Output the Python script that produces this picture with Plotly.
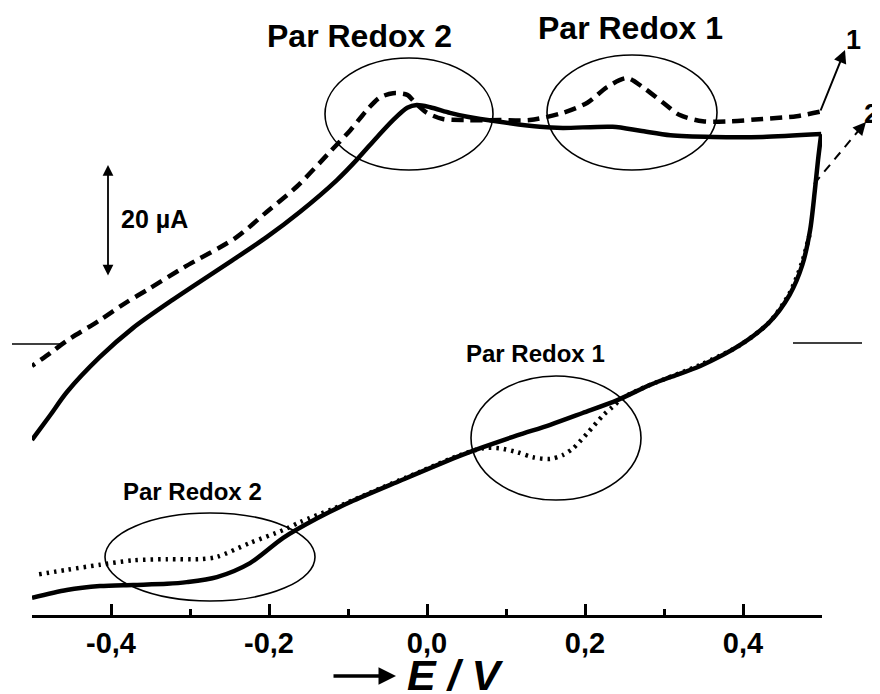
import plotly.graph_objects as go

# ---------------- data (E in V, I in µA) ----------------
# Curve 1 (solid): forward (lower) branch
e1_fwd = [-0.5, -0.456, -0.414, -0.372, -0.329, -0.304, -0.266, -0.224, -0.182, -0.139,
          -0.097, -0.034, 0.039, 0.071, 0.114, 0.156, 0.197, 0.241, 0.282,
          0.308, 0.346, 0.396, 0.434, 0.459, 0.475, 0.485, 0.491, 0.495, 0.499]
i1_fwd = [-45.5, -44.1, -43.4, -43.2, -43.0, -42.7, -41.8, -39.3, -34.8, -31.3,
          -28.4, -24.6, -20.3, -18.6, -16.5, -14.6, -12.5, -10.2, -7.5,
          -6.1, -4.1, -0.4, 3.8, 8.6, 13.9, 20.2, 27.3, 32.7, 37.3]
# Curve 1 (solid): reverse (upper) branch
e1_rev = [0.499, 0.425, 0.362, 0.308, 0.270, 0.235, 0.172, 0.143, 0.092, 0.051,
          0.029, 0.004, -0.013, -0.025, -0.043, -0.063, -0.089, -0.114, -0.161, -0.203,
          -0.246, -0.322, -0.372, -0.414, -0.456, -0.477, -0.5]
i1_rev = [37.3, 36.8, 36.8, 37.1, 37.9, 38.6, 38.4, 38.6, 39.5, 40.4,
          41.1, 42.1, 42.5, 42.0, 39.8, 36.8, 32.7, 29.1, 23.4, 18.9,
          14.8, 7.7, 2.7, -2.5, -8.8, -12.9, -17.3]
# Curve 2: forward branch (dotted)
e2_fwd = [-0.491, -0.456, -0.414, -0.372, -0.329, -0.287, -0.266, -0.224, -0.182, -0.161,
          -0.119, -0.060, -0.009, 0.042, 0.071, 0.092, 0.114, 0.134, 0.156, 0.172,
          0.185, 0.203, 0.223, 0.235, 0.248, 0.282, 0.346, 0.396, 0.434, 0.459,
          0.475, 0.485]
i2_fwd = [-41.3, -40.5, -39.6, -38.8, -38.6, -38.6, -38.2, -35.7, -33.4, -32.0,
          -29.6, -26.0, -23.0, -20.0, -18.8, -18.8, -19.5, -20.4, -20.7, -20.0,
          -18.8, -16.1, -12.9, -11.4, -9.8, -7.5, -3.9, -0.4, 3.8, 8.9,
          14.5, 19.8]
# Curve 2: reverse branch (dashed)
e2_rev = [0.497, 0.468, 0.425, 0.384, 0.349, 0.320, 0.299, 0.273, 0.253, 0.228,
          0.203, 0.172, 0.130, 0.092, 0.051, 0.020, 0.000, -0.015, -0.025, -0.043,
          -0.060, -0.076, -0.097, -0.123, -0.165, -0.203, -0.241, -0.309, -0.354, -0.380,
          -0.414, -0.456, -0.477, -0.5]
i2_rev = [41.3, 40.5, 40.0, 39.6, 39.6, 40.7, 42.9, 45.7, 47.3, 45.7,
          42.9, 41.1, 39.8, 39.8, 39.8, 40.0, 41.1, 42.9, 44.3, 44.6,
          43.8, 41.6, 38.0, 34.1, 27.9, 23.4, 18.9, 13.4, 9.5, 7.3,
          4.1, 0.4, -1.8, -4.1]

major_ticks = [-0.4, -0.2, 0.0, 0.2, 0.4]
major_labels = ["-0,4", "-0,2", "0,0", "0,2", "0,4"]
minor_ticks = [-0.5, -0.3, -0.1, 0.1, 0.3, 0.5]

# ---------------- layout geometry ----------------
OFF = 8                      # page body margin of the html page
W, H = 880 - OFF, 694 - OFF
L, R, T, B = 24, 58, 2, 79
X_RANGE = [-0.5, 0.5]
Y_RANGE = [-48.57, 59.46]


def px(x):
    return (x - OFF - L) / (W - L - R)


def py(y):
    return (H - B - (y - OFF)) / (H - T - B)


FONT = "Liberation Sans, Arial, Helvetica, sans-serif"
BLACK = "#000000"

fig = go.Figure()
fig.add_trace(go.Scatter(x=e1_fwd, y=i1_fwd, mode="lines",
                         line=dict(color=BLACK, width=4.5, shape="spline", smoothing=0.8)))
fig.add_trace(go.Scatter(x=e1_rev, y=i1_rev, mode="lines",
                         line=dict(color=BLACK, width=4.5, shape="spline", smoothing=0.8)))
fig.add_trace(go.Scatter(x=e2_fwd, y=i2_fwd, mode="lines",
                         line=dict(color=BLACK, width=4.5, dash="2.5px,5px", shape="spline", smoothing=0.8)))
fig.add_trace(go.Scatter(x=e2_rev, y=i2_rev, mode="lines",
                         line=dict(color=BLACK, width=4.5, dash="12px,7px", shape="spline", smoothing=0.8)))

shapes = []
# ellipses (pixel boxes)
for (x0, x1, y0, y1) in [(325, 493, 58, 170), (547, 717, 55, 170),
                         (471, 641, 376, 500), (105, 315, 513, 601)]:
    shapes.append(dict(type="circle", xref="paper", yref="paper",
                       x0=px(x0), x1=px(x1), y0=py(y1), y1=py(y0),
                       line=dict(color=BLACK, width=1.6)))
# zero markers
shapes.append(dict(type="line", xref="paper", yref="paper", x0=px(12), x1=px(62),
                   y0=py(344), y1=py(344), line=dict(color=BLACK, width=1.5)))
shapes.append(dict(type="line", xref="paper", yref="paper", x0=px(793), x1=px(862),
                   y0=py(343), y1=py(343), line=dict(color=BLACK, width=1.5)))
# dashed pointer for curve 2
shapes.append(dict(type="line", xref="paper", yref="paper", x0=px(814), x1=px(859),
                   y0=py(184), y1=py(130), line=dict(color=BLACK, width=2, dash="9px,7px")))

annotations = []


def text(x, y, s, size):
    annotations.append(dict(x=px(x), y=py(y), xref="paper", yref="paper", text=s,
                            showarrow=False, xanchor="center", yanchor="middle",
                            font=dict(family=FONT, size=size, color=BLACK)))


def arrow(x_head, y_head, x_tail, y_tail, width, size=1.2, side="end"):
    annotations.append(dict(x=px(x_head), y=py(y_head), xref="paper", yref="paper",
                            ax=x_tail - x_head, ay=y_tail - y_head,
                            axref="pixel", ayref="pixel", text="", showarrow=True,
                            arrowhead=2, arrowside=side, arrowsize=size,
                            arrowwidth=width, arrowcolor=BLACK, standoff=0, startstandoff=0))


text(359, 36, "<b>Par Redox 2</b>", 32)
text(630, 28, "<b>Par Redox 1</b>", 32)
text(535, 353, "<b>Par Redox 1</b>", 24)
text(192, 491, "<b>Par Redox 2</b>", 24)
text(154, 219, "<b>20 µA</b>", 25)
text(853, 40, "<b>1</b>", 27)
text(871, 114, "<b>2</b>", 27)
text(455, 675, "<b><i>E / V</i></b>", 43)

arrow(845, 50, 820, 112, 2, 1.3)            # pointer for curve 1
arrow(866, 122, 858, 131, 2, 1.3)           # arrow head for curve 2 pointer
arrow(108, 165, 108, 277, 1.8, 1.2, "end+start")  # 20 µA scale bar
arrow(396, 676, 332, 676, 3.5, 1.0)         # arrow before axis title

fig.update_layout(
    width=W, height=H,
    margin=dict(l=L, r=R, t=T, b=B, pad=0),
    paper_bgcolor="white", plot_bgcolor="white",
    showlegend=False,
    shapes=shapes, annotations=annotations,
    xaxis=dict(range=X_RANGE, showgrid=False, zeroline=False, showline=True,
               linecolor=BLACK, linewidth=3, ticks="inside", ticklen=11, tickwidth=2.5,
               tickcolor=BLACK, tickvals=major_ticks, ticktext=major_labels,
               tickfont=dict(family=FONT, size=29, color=BLACK, weight="bold"),
               minor=dict(tickvals=minor_ticks, ticks="inside", ticklen=6, tickwidth=2.5,
                          tickcolor=BLACK, showgrid=False)),
    yaxis=dict(range=Y_RANGE, visible=False, showgrid=False, zeroline=False),
)

fig.write_html("out.html")
